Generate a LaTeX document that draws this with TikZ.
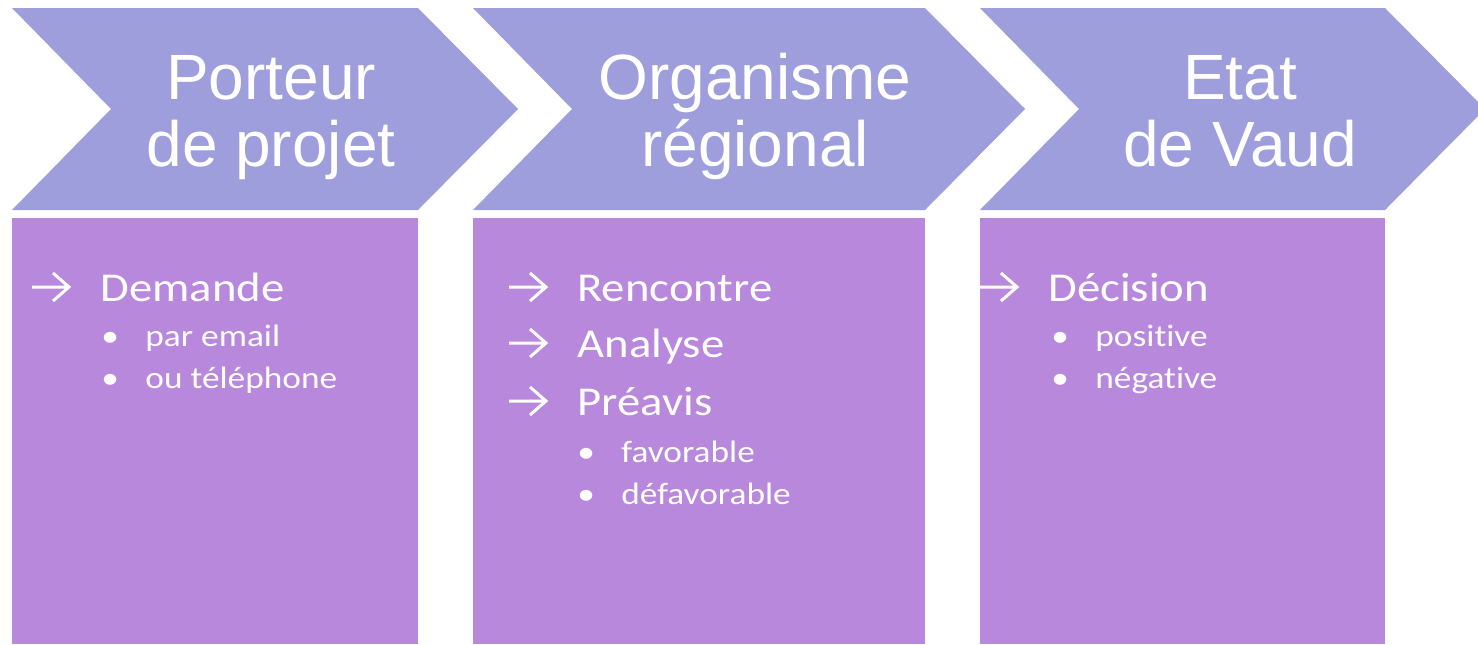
\documentclass[tikz,border=0pt]{standalone}
\usepackage{fontspec}
\setmainfont{Liberation Sans}
\newfontfamily\bodyfont[FakeStretch=1.14, Ligatures=NoCommon]{Carlito}
\definecolor{chevroncol}{RGB}{158,158,221}
\definecolor{panelcol}{RGB}{184,136,220}

\begin{document}
\begin{tikzpicture}[x = 0.5pt, y = -0.5pt,
	title/.style = {text = white, align = center, anchor = base, inner sep = 0pt, font = \fontsize{32}{33.5}\selectfont},
	item/.style = {text = white, anchor = base west, inner sep = 0pt, font = \bodyfont\fontsize{20.5}{24}\selectfont},
	subitem/.style = {text = white, anchor = base west, inner sep = 0pt, font = \bodyfont\fontsize{15.5}{18}\selectfont},
	arrowbullet/.style = {white, line width = 1.5pt, line join = miter}]
	 \useasboundingbox (0, 0) rectangle (1478, 644);
	 
	 % chevrons and panels
	 \foreach \l/\r in {12/418, 473/925, 980/1385}
	 {
	 \fill[chevroncol] (\l, 8) -- (\r, 8) -- (\r + 100, 109) -- (\r, 210) -- (\l, 210) -- (\l + 99, 109) -- cycle;
	 \fill[panelcol] (\l, 218) rectangle (\r, 644);
	 }
	 
	 % base anchor = baseline of second line
	 \node[title] (porteur) at (271, 166) {Porteur\\de projet};
	 \node[title] (organisme) at (755, 166) {Organisme\\régional};
	 \node[title] (etat) at (1240, 166) {Etat\\de Vaud};
	 
	 \node[item] (demande) at (100, 301) {Demande};
	 \node[subitem] (email) at (145, 346) {par email};
	 \node[subitem] (phone) at (145, 388) {ou téléphone};
	 
	 \node[item] (rencontre) at (577, 301) {Rencontre};
	 \node[item] (analyse) at (577, 357) {Analyse};
	 \node[item] (preavis) at (577, 415) {Préavis};
	 \node[subitem] (favorable) at (621, 462) {favorable};
	 \node[subitem] (defavorable) at (621, 504) {défavorable};
	 
	 \node[item] (decision) at (1048, 301) {Décision};
	 \node[subitem] (positive) at (1095, 346) {positive};
	 \node[subitem] (negative) at (1095, 388) {négative};
	 
	 \foreach \n in {demande, rencontre, analyse, preavis, decision}
	 \draw[arrowbullet] ([shift = {(-68, -14)}] \n.base west) -- ++(37, 0) ++(-16, -14) -- ++(16, 14) -- ++(-16, 14);
	 
	 \foreach \n in {email, phone, favorable, defavorable, positive, negative}
	 \node[subitem] at ([shift = {(-44, 0)}] \n.base west) {\textbullet};
\end{tikzpicture}
\end{document}
